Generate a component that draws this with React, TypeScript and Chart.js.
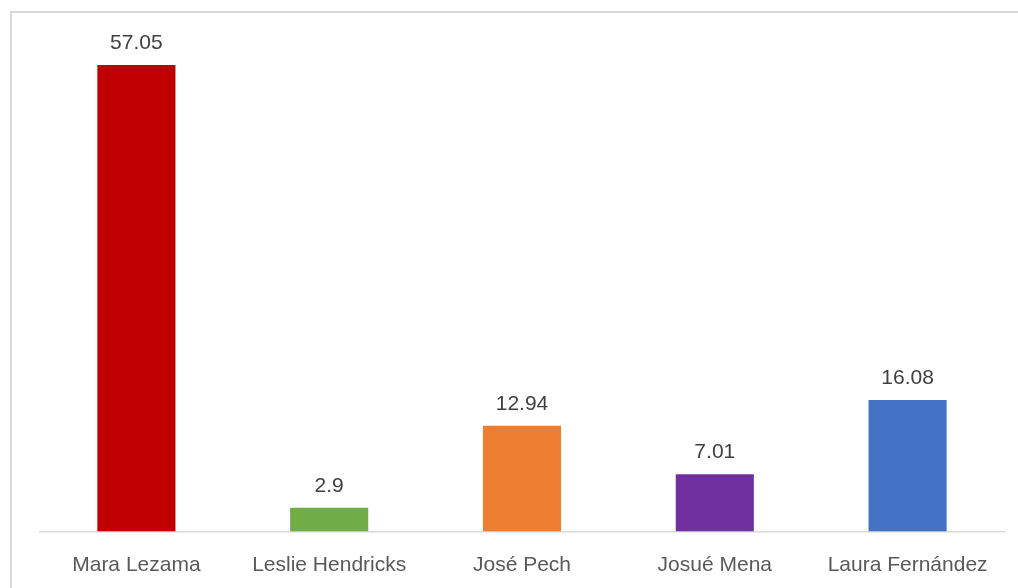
import React, { useEffect, useRef } from "react";
import { Chart, registerables } from "chart.js";

Chart.register(...registerables);

const categories = ["Mara Lezama", "Leslie Hendricks", "José Pech", "Josué Mena", "Laura Fernández"];
const values = [57.05, 2.9, 12.94, 7.01, 16.08];
const barColors = ["#C00000", "#70AD47", "#ED7D31", "#7030A0", "#4472C4"];

const FONT = "'Liberation Sans', Arial, sans-serif";

const valueLabels = {
  id: "valueLabels",
  afterDatasetsDraw(chart: any) {
    const ctx = chart.ctx;
    const meta = chart.getDatasetMeta(0);
    ctx.save();
    ctx.font = `21px ${FONT}`;
    ctx.fillStyle = "#404040";
    ctx.textAlign = "center";
    ctx.textBaseline = "alphabetic";
    meta.data.forEach((el: any, i: number) => {
      ctx.fillText(String(values[i]), el.x, el.y - 16);
    });
    ctx.restore();
  },
};

export default function App() {
  const ref = useRef<HTMLCanvasElement>(null);
  useEffect(() => {
    if (!ref.current) return;
    const chart = new Chart(ref.current, {
      type: "bar",
      data: {
        labels: categories,
        datasets: [
          {
            data: values,
            backgroundColor: barColors,
            borderWidth: 0,
            categoryPercentage: 1,
            barPercentage: 0.405,
          },
        ],
      },
      options: {
        responsive: false,
        animation: false,
        maintainAspectRatio: false,
        layout: { padding: { left: 40, right: 14, top: 41, bottom: 0 } },
        plugins: { legend: { display: false }, tooltip: { enabled: false }, title: { display: false } },
        scales: {
          x: {
            grid: { display: false, drawTicks: false, tickLength: 0 },
            border: { display: true, color: "#D9D9D9", width: 1.5 },
            ticks: { color: "#595959", font: { family: FONT, size: 21 }, padding: 21, maxRotation: 0, autoSkip: false },
            afterFit: (scale: any) => {
              scale.height = 56.5;
            },
          },
          y: {
            display: false,
            min: 0,
            max: 60,
          },
        },
      },
      plugins: [valueLabels],
    });
    return () => chart.destroy();
  }, []);
  return (
    <div style={{ position: "absolute", left: 0, top: 0, width: 1018, height: 588, overflow: "hidden", background: "#fff" }}>
      <div
        style={{
          position: "absolute",
          left: 10,
          top: 11,
          width: 1040,
          height: 620,
          border: "2px solid #D9D9D9",
          boxSizing: "border-box",
        }}
      />
      <canvas ref={ref} width={1018} height={588} style={{ position: "absolute", left: 0, top: 0, width: 1018, height: 588 }} />
    </div>
  );
}
